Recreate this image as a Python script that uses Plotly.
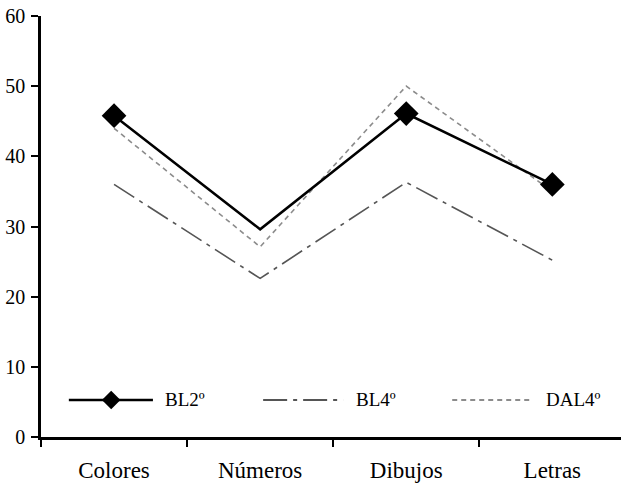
import plotly.graph_objects as go

categories = ["Colores", "Números", "Dibujos", "Letras"]
bl2 = [45.8, 29.6, 46.1, 36.0]
bl4 = [36.0, 22.6, 36.3, 25.2]
dal4 = [44.0, 27.1, 50.0, 35.0]
y_ticks = [0, 10, 20, 30, 40, 50, 60]

FONT = "Liberation Serif"
fig = go.Figure()
fig.add_trace(go.Scatter(x=categories, y=dal4, mode="lines", name="DAL4º",
                         line=dict(color="#8c8c8c", width=1.6, dash="5px,4px")))
fig.add_trace(go.Scatter(x=categories, y=bl4, mode="lines", name="BL4º",
                         line=dict(color="#555555", width=1.6, dash="24px,6px,4px,6px")))
fig.add_trace(go.Scatter(x=categories, y=bl2, mode="lines+markers", name="BL2º",
                         line=dict(color="black", width=2.5),
                         marker=dict(symbol="diamond", size=[19, 0, 19, 19], color="black",
                                     opacity=1, line=dict(width=0))))

# custom legend (paper coords)
ly = 0.088
shapes = [
    dict(type="line", xref="paper", yref="paper", x0=0.048, x1=0.193, y0=ly, y1=ly,
         line=dict(color="black", width=2.5)),
    dict(type="path", xref="paper", yref="paper",
         path=f"M {0.121-0.016},{ly} L 0.121,{ly+0.022} L {0.121+0.016},{ly} L 0.121,{ly-0.022} Z",
         fillcolor="black", line=dict(color="black", width=0)),
    dict(type="line", xref="paper", yref="paper", x0=0.383, x1=0.521, y0=ly, y1=ly,
         line=dict(color="#555555", width=2, dash="24px,6px,4px,6px")),
    dict(type="line", xref="paper", yref="paper", x0=0.709, x1=0.848, y0=ly, y1=ly,
         line=dict(color="#8c8c8c", width=2, dash="5px,4px")),
]
annotations = [
    dict(text=t, x=x, y=ly, xref="paper", yref="paper", xanchor="left", yanchor="middle",
         showarrow=False, font=dict(family=FONT, size=19, color="black"))
    for t, x in [("BL2º", 0.211), ("BL4º", 0.540), ("DAL4º", 0.868)]
]

fig.update_layout(
    width=621, height=484,
    margin=dict(l=41, r=0, t=16, b=47, autoexpand=False),
    paper_bgcolor="white", plot_bgcolor="white",
    showlegend=False,
    shapes=shapes, annotations=annotations,
    font=dict(family=FONT, size=19, color="black"),
    xaxis=dict(range=[-0.5, 3.47], showgrid=False, zeroline=False,
               showline=True, linecolor="black", linewidth=2.5,
               ticks="outside", tickson="boundaries", ticklen=7, tickwidth=2,
               tickcolor="black", tickfont=dict(size=23), ticklabelstandoff=11,
               automargin=False),
    yaxis=dict(range=[0, 60], tickvals=y_ticks, showgrid=False, zeroline=False,
               showline=True, linecolor="black", linewidth=2.5,
               ticks="outside", ticklen=7, tickwidth=2, tickcolor="black",
               tickfont=dict(size=20), ticklabelstandoff=2, automargin=False),
)
fig.write_html("out.html", config={"displayModeBar": False},
               post_script="document.body.style.margin='0';document.body.style.overflow='hidden';")
